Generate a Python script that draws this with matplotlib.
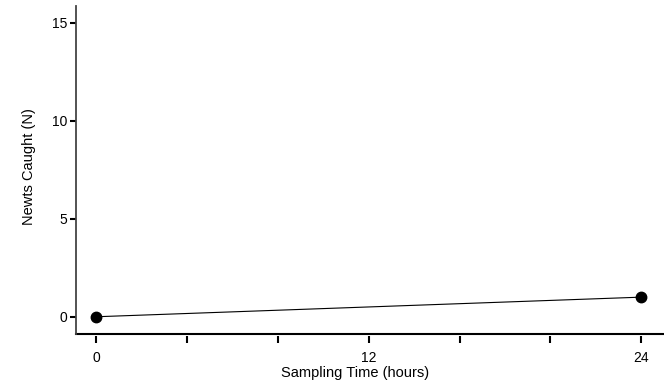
import matplotlib
matplotlib.use('Agg')
import matplotlib.pyplot as plt

# data
hours = [0, 24]
newts = [0, 1]
xticks = [0, 4, 8, 12, 16, 20, 24]
xlabels = ['0', '', '', '12', '', '', '24']
yticks = [0, 5, 10, 15]

plt.rcParams['font.family'] = ['Liberation Sans', 'DejaVu Sans']

fig = plt.figure(figsize=(6.64, 3.92), dpi=100)
ax = fig.add_axes([76/664, 1-334/392, 1-76/664, 328/392])

ax.plot(hours, newts, color='black', lw=0.8, marker='o', ms=7.5,
        clip_on=False, zorder=3)

ax.set_xlim(-0.9, 25.0)
ax.set_ylim(-0.88, 15.85)

ax.spines['top'].set_visible(False)
ax.spines['right'].set_visible(False)
ax.spines['left'].set_color('#444444')
ax.spines['left'].set_linewidth(1.3)
# bottom spine drawn as a line, ticks detached slightly below it
ax.spines['bottom'].set_position(('outward', 1.5))
ax.spines['bottom'].set_visible(False)
ax.axhline(-0.88, color='black', lw=1.5, clip_on=False)

ax.set_xticks(xticks)
ax.set_xticklabels(xlabels)
ax.set_yticks(yticks)
ax.tick_params(axis='x', direction='out', length=5, width=1.5, pad=6,
               labelsize=10)
ax.tick_params(axis='y', direction='out', length=4, width=1.5, pad=2,
               labelsize=10)

ax.set_xlabel('Sampling Time (hours)', fontsize=10.5)
ax.set_ylabel('Newts Caught (N)', fontsize=10.5)
ax.xaxis.set_label_coords((355-76)/588, -(373-334)/328, transform=ax.transAxes)
ax.yaxis.set_label_coords(-(76-29)/588, (334-167)/328, transform=ax.transAxes)
ax.xaxis.label.set_va('center')
ax.yaxis.label.set_va('center')

fig.savefig('out.png', dpi=100)
